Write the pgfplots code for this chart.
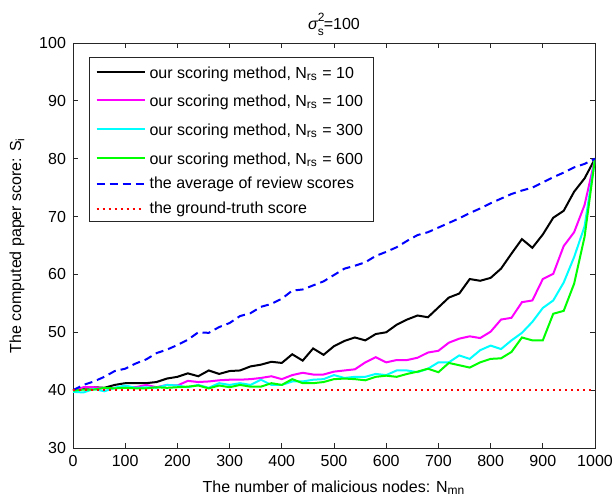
\documentclass[border=0pt]{standalone}
\usepackage{fontspec}
\setmainfont{Liberation Sans}
\usepackage{pgfplots}
\usepackage{pgfplotstable}
\pgfplotsset{compat=1.18}
\definecolor{mMag}{RGB}{255,0,255}
\definecolor{mCyan}{RGB}{0,255,255}
\definecolor{mGreen}{RGB}{0,255,0}
\definecolor{mBlue}{RGB}{0,0,255}
\definecolor{mRed}{RGB}{255,0,0}
\newcommand{\sub}[1]{\textsubscript{#1}\rule{0pt}{7.8pt}}

\pgfplotstableread{
x    blk   mag   cyn   grn   blu
0    40.0  39.9  39.7  39.9  40.0
20   40.4  40.5  39.6  40.1  40.9
40   40.5  40.5  40.2  40.1  41.5
60   40.4  40.3  39.8  40.4  42.3
80   40.9  40.4  40.4  40.3  43.3
100  41.2  40.5  40.8  40.4  43.7
120  41.2  40.5  40.4  40.3  44.6
140  41.2  40.9  40.5  40.3  45.3
160  41.4  40.5  40.4  40.5  46.4
180  42.0  40.9  40.9  40.4  47.0
200  42.3  40.8  40.8  40.5  47.8
220  42.9  41.6  40.5  40.6  48.7
240  42.4  41.4  40.9  40.8  50.0
260  43.4  41.5  40.4  40.3  49.9
280  42.8  41.7  41.2  40.8  50.9
300  43.3  41.8  40.9  40.5  51.6
320  43.4  41.8  41.2  40.9  52.8
340  44.1  41.9  40.9  40.6  53.3
360  44.4  42.1  41.8  40.6  54.4
380  44.9  42.4  40.9  41.2  54.9
400  44.7  41.9  40.9  40.9  55.8
420  46.2  42.6  41.5  41.9  57.2
440  45.1  43.0  41.5  41.2  57.4
460  47.2  42.7  41.8  41.2  58.1
480  46.1  42.7  41.9  41.4  58.8
500  47.6  43.2  42.6  41.9  59.9
520  48.5  43.4  42.1  42.0  61.0
540  49.1  43.6  42.3  41.9  61.5
560  48.6  44.8  42.3  41.7  62.1
580  49.7  45.7  42.8  42.3  63.2
600  50.0  44.8  42.6  42.5  63.9
620  51.3  45.2  43.4  42.3  64.7
640  52.2  45.2  43.4  42.8  65.8
660  52.9  45.6  43.1  43.2  66.8
680  52.6  46.5  43.7  43.7  67.3
700  54.3  46.8  44.8  43.1  68.1
720  56.0  48.2  44.8  44.7  68.9
740  56.7  48.9  46.0  44.3  69.7
760  59.2  49.3  45.4  43.9  70.6
780  58.9  49.0  46.9  44.8  71.4
800  59.4  50.1  47.7  45.4  72.3
820  61.0  52.2  47.1  45.5  73.1
840  63.6  52.5  48.6  46.6  73.9
860  66.1  55.2  49.9  49.1  74.5
880  64.6  55.5  51.8  48.6  75.0
900  66.9  59.2  54.2  48.6  75.9
920  69.8  60.1  55.5  53.2  76.8
940  71.0  64.9  58.6  53.7  77.6
960  74.3  67.3  63.0  58.4  78.5
980  76.6  72.0  68.3  66.5  79.1
1000 80.0  80.0  80.0  80.0  80.0
}\datatable

\begin{document}
\begin{tikzpicture}[font=\fontsize{8}{9.6}\selectfont]
\begin{axis}[
  name=ax,
  scale only axis,
  width=261pt, height=202.5pt,
  xmin=0, xmax=1000, ymin=30, ymax=100,
  xtick={0,100,...,1000},
  ytick={30,40,...,100},
  tick align=inside,
  xtick pos=both, ytick pos=both,
  xticklabel pos=left, yticklabel pos=left,
  major tick length=2.5pt,
  tick style={black!85, line width=0.4pt},
  axis line style={black!85, line width=0.4pt},
  /pgf/number format/assume math mode=true,
  /pgf/number format/1000 sep={},
  ticklabel style={font=\fontsize{8}{9.6}\selectfont},
  xlabel={The number of malicious nodes: N\textsubscript{mn}},
  ylabel={The computed paper score: S\textsubscript{i}},
  xlabel style={yshift=-0.5pt},
  ylabel style={yshift=0.5pt},
  title={{\itshape σ}\makebox[0pt][l]{\raisebox{4.2pt}{\fontsize{6}{6}\selectfont 2}}\raisebox{-3pt}{\fontsize{6}{6}\selectfont s}=100},
  title style={yshift=-6pt},
  legend cell align=left,
  legend style={at={(0.031,0.965)}, anchor=north west, draw=black!85, line width=0.4pt,
    font=\fontsize{8}{9.6}\selectfont, row sep=1pt, inner xsep=3pt, inner ysep=0.6pt},
  legend image code/.code={\draw[line width=1pt,#1] (0pt,0.1pt) -- (24pt,0.1pt);},
  every axis plot/.append style={line width=1pt},
]
\addplot[black] table[x=x,y=blk] {\datatable};
\addlegendentry{our scoring method, N\sub{rs} = 10}
\addplot[mMag] table[x=x,y=mag] {\datatable};
\addlegendentry{our scoring method, N\sub{rs} = 100}
\addplot[mCyan] table[x=x,y=cyn] {\datatable};
\addlegendentry{our scoring method, N\sub{rs} = 300}
\addplot[mGreen] table[x=x,y=grn] {\datatable};
\addlegendentry{our scoring method, N\sub{rs} = 600}
\addplot[mBlue, dash pattern=on 4pt off 2.5pt] table[x=x,y=blu] {\datatable};
\addlegendentry{the average of review scores}
\addplot[mRed, dotted] coordinates {(0,40) (1000,40)};
\addlegendentry{the ground-truth score}
\end{axis}
\pgfresetboundingbox
\path (ax.south west) ++(-36.5pt,-28pt) coordinate (bl);
\path (ax.north east) ++(9pt,21.5pt) coordinate (tr);
\path[use as bounding box] (bl) rectangle (tr);
\end{tikzpicture}
\end{document}
